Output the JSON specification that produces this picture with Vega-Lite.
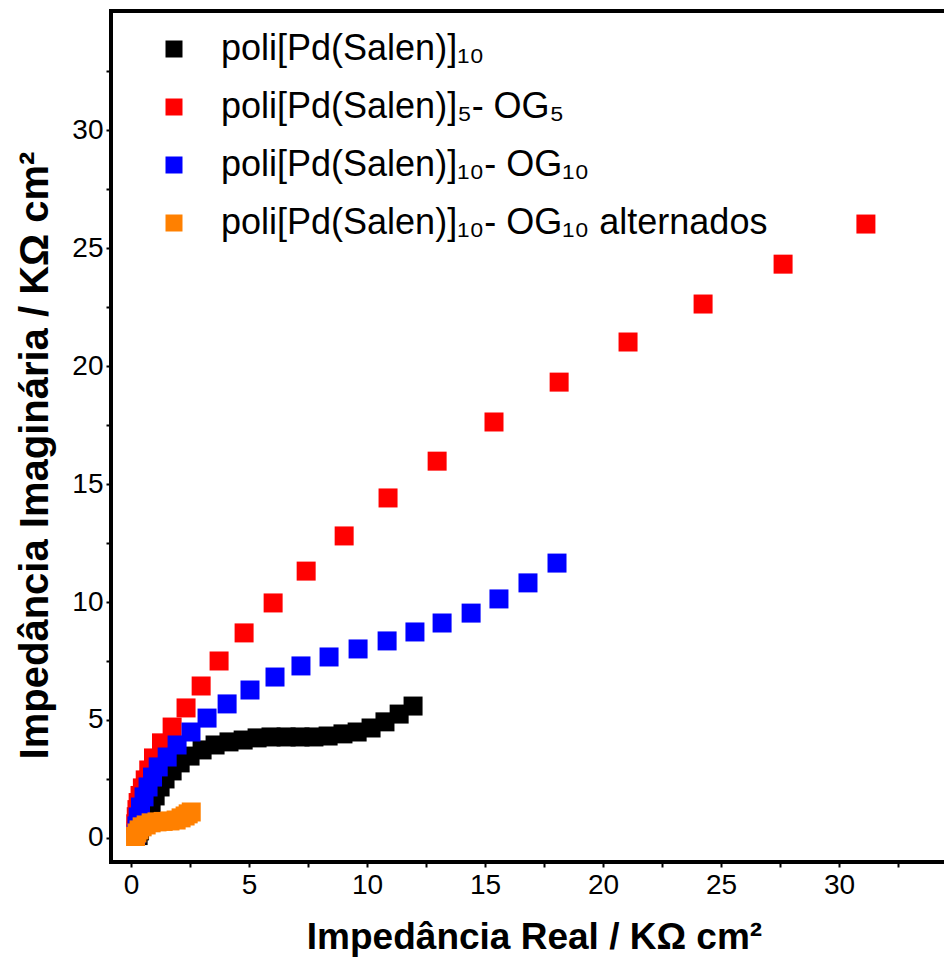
{
  "$schema": "https://vega.github.io/schema/vega-lite/v6.json",
  "autosize": "none",
  "width": 846,
  "height": 851,
  "padding": {"left": 111, "top": 11, "right": 0, "bottom": 95},
  "background": "white",
  "config": {
    "view": {"stroke": "black", "strokeWidth": 4},
    "font": "Liberation Sans",
    "axis": {
      "domain": false,
      "grid": false,
      "labelFont": "Liberation Sans",
      "labelFontSize": 28,
      "labelColor": "black",
      "tickColor": "black",
      "tickSize": 5,
      "tickWidth": 2,
      "titleFont": "Liberation Sans",
      "titleFontWeight": "bold",
      "titleColor": "black"
    },
    "legend": {
      "orient": "none",
      "legendX": 45,
      "legendY": 20,
      "padding": 0,
      "title": null,
      "symbolType": "square",
      "symbolSize": 289,
      "symbolStrokeWidth": 0,
      "symbolOpacity": 1,
      "labelFont": "Liberation Sans",
      "labelFontSize": 36,
      "labelColor": "black",
      "labelOffset": 29,
      "rowPadding": 22,
      "labelLimit": 800
    }
  },
  "data": {
    "values": [
      {"serie": "poli[Pd(Salen)]₁₀", "x": 0.3, "y": 0.1},
      {"serie": "poli[Pd(Salen)]₁₀", "x": 0.36, "y": 0.3},
      {"serie": "poli[Pd(Salen)]₁₀", "x": 0.42, "y": 0.5},
      {"serie": "poli[Pd(Salen)]₁₀", "x": 0.53, "y": 0.76},
      {"serie": "poli[Pd(Salen)]₁₀", "x": 0.68, "y": 1.10},
      {"serie": "poli[Pd(Salen)]₁₀", "x": 0.85, "y": 1.44},
      {"serie": "poli[Pd(Salen)]₁₀", "x": 1.02, "y": 1.78},
      {"serie": "poli[Pd(Salen)]₁₀", "x": 1.23, "y": 2.16},
      {"serie": "poli[Pd(Salen)]₁₀", "x": 1.44, "y": 2.50},
      {"serie": "poli[Pd(Salen)]₁₀", "x": 1.74, "y": 2.84},
      {"serie": "poli[Pd(Salen)]₁₀", "x": 2.08, "y": 3.18},
      {"serie": "poli[Pd(Salen)]₁₀", "x": 2.50, "y": 3.47},
      {"serie": "poli[Pd(Salen)]₁₀", "x": 3.01, "y": 3.73},
      {"serie": "poli[Pd(Salen)]₁₀", "x": 3.56, "y": 3.94},
      {"serie": "poli[Pd(Salen)]₁₀", "x": 4.15, "y": 4.07},
      {"serie": "poli[Pd(Salen)]₁₀", "x": 4.75, "y": 4.15},
      {"serie": "poli[Pd(Salen)]₁₀", "x": 5.34, "y": 4.24},
      {"serie": "poli[Pd(Salen)]₁₀", "x": 5.93, "y": 4.28},
      {"serie": "poli[Pd(Salen)]₁₀", "x": 6.57, "y": 4.28},
      {"serie": "poli[Pd(Salen)]₁₀", "x": 7.16, "y": 4.28},
      {"serie": "poli[Pd(Salen)]₁₀", "x": 7.75, "y": 4.28},
      {"serie": "poli[Pd(Salen)]₁₀", "x": 8.35, "y": 4.32},
      {"serie": "poli[Pd(Salen)]₁₀", "x": 8.98, "y": 4.41},
      {"serie": "poli[Pd(Salen)]₁₀", "x": 9.58, "y": 4.49},
      {"serie": "poli[Pd(Salen)]₁₀", "x": 10.17, "y": 4.66},
      {"serie": "poli[Pd(Salen)]₁₀", "x": 10.76, "y": 4.92},
      {"serie": "poli[Pd(Salen)]₁₀", "x": 11.36, "y": 5.25},
      {"serie": "poli[Pd(Salen)]₁₀", "x": 11.95, "y": 5.59},

      {"serie": "poli[Pd(Salen)]₅- OG₅", "x": 0.22, "y": 0.3},
      {"serie": "poli[Pd(Salen)]₅- OG₅", "x": 0.2, "y": 0.6},
      {"serie": "poli[Pd(Salen)]₅- OG₅", "x": 0.22, "y": 0.9},
      {"serie": "poli[Pd(Salen)]₅- OG₅", "x": 0.25, "y": 1.2},
      {"serie": "poli[Pd(Salen)]₅- OG₅", "x": 0.3, "y": 1.5},
      {"serie": "poli[Pd(Salen)]₅- OG₅", "x": 0.38, "y": 1.8},
      {"serie": "poli[Pd(Salen)]₅- OG₅", "x": 0.48, "y": 2.12},
      {"serie": "poli[Pd(Salen)]₅- OG₅", "x": 0.6, "y": 2.46},
      {"serie": "poli[Pd(Salen)]₅- OG₅", "x": 0.75, "y": 2.88},
      {"serie": "poli[Pd(Salen)]₅- OG₅", "x": 0.95, "y": 3.39},
      {"serie": "poli[Pd(Salen)]₅- OG₅", "x": 1.29, "y": 4.03},
      {"serie": "poli[Pd(Salen)]₅- OG₅", "x": 1.74, "y": 4.70},
      {"serie": "poli[Pd(Salen)]₅- OG₅", "x": 2.33, "y": 5.51},
      {"serie": "poli[Pd(Salen)]₅- OG₅", "x": 2.97, "y": 6.44},
      {"serie": "poli[Pd(Salen)]₅- OG₅", "x": 3.73, "y": 7.50},
      {"serie": "poli[Pd(Salen)]₅- OG₅", "x": 4.79, "y": 8.69},
      {"serie": "poli[Pd(Salen)]₅- OG₅", "x": 6.02, "y": 9.96},
      {"serie": "poli[Pd(Salen)]₅- OG₅", "x": 7.42, "y": 11.31},
      {"serie": "poli[Pd(Salen)]₅- OG₅", "x": 9.03, "y": 12.80},
      {"serie": "poli[Pd(Salen)]₅- OG₅", "x": 10.89, "y": 14.41},
      {"serie": "poli[Pd(Salen)]₅- OG₅", "x": 12.97, "y": 15.97},
      {"serie": "poli[Pd(Salen)]₅- OG₅", "x": 15.38, "y": 17.63},
      {"serie": "poli[Pd(Salen)]₅- OG₅", "x": 18.14, "y": 19.32},
      {"serie": "poli[Pd(Salen)]₅- OG₅", "x": 21.06, "y": 21.02},
      {"serie": "poli[Pd(Salen)]₅- OG₅", "x": 24.24, "y": 22.63},
      {"serie": "poli[Pd(Salen)]₅- OG₅", "x": 27.63, "y": 24.32},
      {"serie": "poli[Pd(Salen)]₅- OG₅", "x": 31.14, "y": 26.02},

      {"serie": "poli[Pd(Salen)]₁₀- OG₁₀", "x": 0.22, "y": 0.17},
      {"serie": "poli[Pd(Salen)]₁₀- OG₁₀", "x": 0.25, "y": 0.51},
      {"serie": "poli[Pd(Salen)]₁₀- OG₁₀", "x": 0.3, "y": 0.89},
      {"serie": "poli[Pd(Salen)]₁₀- OG₁₀", "x": 0.4, "y": 1.31},
      {"serie": "poli[Pd(Salen)]₁₀- OG₁₀", "x": 0.55, "y": 1.74},
      {"serie": "poli[Pd(Salen)]₁₀- OG₁₀", "x": 0.72, "y": 2.16},
      {"serie": "poli[Pd(Salen)]₁₀- OG₁₀", "x": 0.91, "y": 2.58},
      {"serie": "poli[Pd(Salen)]₁₀- OG₁₀", "x": 1.15, "y": 3.01},
      {"serie": "poli[Pd(Salen)]₁₀- OG₁₀", "x": 1.53, "y": 3.43},
      {"serie": "poli[Pd(Salen)]₁₀- OG₁₀", "x": 1.95, "y": 3.94},
      {"serie": "poli[Pd(Salen)]₁₀- OG₁₀", "x": 2.54, "y": 4.49},
      {"serie": "poli[Pd(Salen)]₁₀- OG₁₀", "x": 3.22, "y": 5.08},
      {"serie": "poli[Pd(Salen)]₁₀- OG₁₀", "x": 4.07, "y": 5.68},
      {"serie": "poli[Pd(Salen)]₁₀- OG₁₀", "x": 5.04, "y": 6.27},
      {"serie": "poli[Pd(Salen)]₁₀- OG₁₀", "x": 6.10, "y": 6.82},
      {"serie": "poli[Pd(Salen)]₁₀- OG₁₀", "x": 7.20, "y": 7.29},
      {"serie": "poli[Pd(Salen)]₁₀- OG₁₀", "x": 8.39, "y": 7.67},
      {"serie": "poli[Pd(Salen)]₁₀- OG₁₀", "x": 9.62, "y": 8.01},
      {"serie": "poli[Pd(Salen)]₁₀- OG₁₀", "x": 10.85, "y": 8.35},
      {"serie": "poli[Pd(Salen)]₁₀- OG₁₀", "x": 12.03, "y": 8.73},
      {"serie": "poli[Pd(Salen)]₁₀- OG₁₀", "x": 13.18, "y": 9.11},
      {"serie": "poli[Pd(Salen)]₁₀- OG₁₀", "x": 14.41, "y": 9.53},
      {"serie": "poli[Pd(Salen)]₁₀- OG₁₀", "x": 15.59, "y": 10.13},
      {"serie": "poli[Pd(Salen)]₁₀- OG₁₀", "x": 16.82, "y": 10.81},
      {"serie": "poli[Pd(Salen)]₁₀- OG₁₀", "x": 18.05, "y": 11.65},

      {"serie": "poli[Pd(Salen)]₁₀- OG₁₀ alternados", "x": 0.19, "y": 0.06},
      {"serie": "poli[Pd(Salen)]₁₀- OG₁₀ alternados", "x": 0.25, "y": 0.21},
      {"serie": "poli[Pd(Salen)]₁₀- OG₁₀ alternados", "x": 0.34, "y": 0.34},
      {"serie": "poli[Pd(Salen)]₁₀- OG₁₀ alternados", "x": 0.47, "y": 0.47},
      {"serie": "poli[Pd(Salen)]₁₀- OG₁₀ alternados", "x": 0.64, "y": 0.55},
      {"serie": "poli[Pd(Salen)]₁₀- OG₁₀ alternados", "x": 0.85, "y": 0.64},
      {"serie": "poli[Pd(Salen)]₁₀- OG₁₀ alternados", "x": 1.10, "y": 0.68},
      {"serie": "poli[Pd(Salen)]₁₀- OG₁₀ alternados", "x": 1.36, "y": 0.70},
      {"serie": "poli[Pd(Salen)]₁₀- OG₁₀ alternados", "x": 1.65, "y": 0.72},
      {"serie": "poli[Pd(Salen)]₁₀- OG₁₀ alternados", "x": 1.91, "y": 0.76},
      {"serie": "poli[Pd(Salen)]₁₀- OG₁₀ alternados", "x": 2.12, "y": 0.85},
      {"serie": "poli[Pd(Salen)]₁₀- OG₁₀ alternados", "x": 2.29, "y": 0.93},
      {"serie": "poli[Pd(Salen)]₁₀- OG₁₀ alternados", "x": 2.42, "y": 1.02},
      {"serie": "poli[Pd(Salen)]₁₀- OG₁₀ alternados", "x": 2.55, "y": 1.10}
    ]
  },
  "mark": {"type": "square", "size": 361, "opacity": 1, "strokeWidth": 0, "filled": true},
  "encoding": {
    "x": {
      "field": "x",
      "type": "quantitative",
      "scale": {"domain": [-0.85, 35], "nice": false, "zero": false},
      "axis": {
        "title": "Impedância Real / ΚΩ cm²",
        "titleFontSize": 37,
        "values": [0, 2.5, 5, 7.5, 10, 12.5, 15, 17.5, 20, 22.5, 25, 27.5, 30, 32.5],
        "labelExpr": "datum.value % 5 === 0 ? datum.label : ''",
        "labelPadding": 4,
        "titlePadding": 20
      }
    },
    "y": {
      "field": "y",
      "type": "quantitative",
      "scale": {"domain": [-1.02, 35.05], "nice": false, "zero": false},
      "axis": {
        "title": "Impedância Imaginária / ΚΩ cm²",
        "titleFontSize": 40,
        "titleY": 444,
        "values": [0, 2.5, 5, 7.5, 10, 12.5, 15, 17.5, 20, 22.5, 25, 27.5, 30, 32.5],
        "labelExpr": "datum.value % 5 === 0 ? datum.label : ''",
        "labelPadding": 3,
        "titlePadding": 16
      }
    },
    "color": {
      "field": "serie",
      "type": "nominal",
      "sort": null,
      "scale": {
        "domain": ["poli[Pd(Salen)]₁₀", "poli[Pd(Salen)]₅- OG₅", "poli[Pd(Salen)]₁₀- OG₁₀", "poli[Pd(Salen)]₁₀- OG₁₀ alternados"],
        "range": ["#000000", "#ff0000", "#0000ff", "#ff8000"]
      }
    }
  }
}
